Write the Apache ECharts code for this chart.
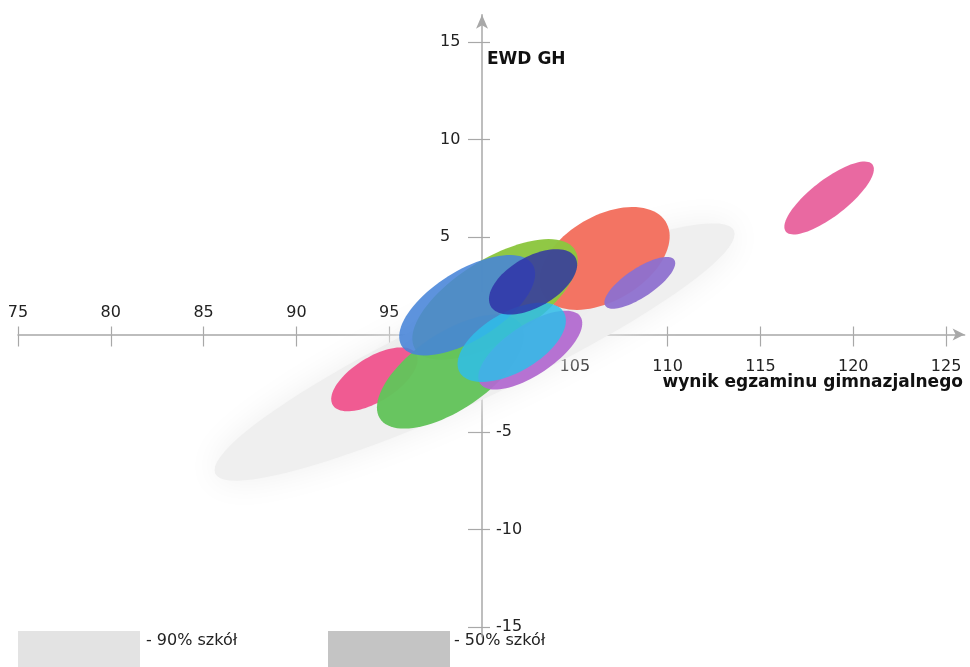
<!DOCTYPE html>
<html>
<head>
<meta charset="utf-8">
<script src="https://cdn.jsdelivr.net/npm/echarts@6/dist/echarts.min.js"></script>
<style>html,body{margin:0;padding:0;background:#fff}#c{width:970px;height:667px}</style>
</head>
<body>
<div id="c"></div>
<script>
// ---- data ----
const ellipseNames = ['90% szkół', '50% szkół', 'A', 'B', 'C', 'D', 'E', 'F', 'G', 'H', 'I', 'J'];
const centerX   = [99.6, 100.4, 106.6, 108.5, 94.2, 100.7, 98.3, 102.6, 99.2, 101.6, 102.75, 118.7];
const centerY   = [-0.9,  0.6,   3.9,   2.65, -2.3,  1.8,  -1.9, -0.8,  1.5, -0.4,   2.7,   7.0];
const semiMajor = [15.3,  6.8,   3.8,   2.2,  2.6,   5.0,   4.5,  3.2,  4.1,  3.2,   2.6,   2.9];
const semiMinor = [2.4,   1.6,   2.2,   0.75, 1.15,  2.1,   2.0,  1.3,  1.8,  1.55,  1.3,   0.95];
const angleDeg  = [24,    28,    28,    32,   30,    30,    32,   32,   30,   28,    28,    36];
const colors    = ['#efefef', '#e6e6e6', '#f36f5e', '#8d70cf', '#f0568e', '#8cc63f', '#63c35b', '#b26ad0', '#4784d8', '#2fbde9', '#2e2fa6', '#e8649e'];
const opacities = [1, 1, 0.97, 0.95, 0.97, 0.97, 0.97, 0.95, 0.88, 0.85, 0.82, 0.97];
const blurs     = [34, 20, 0, 0, 0, 0, 0, 0, 0, 0, 0, 0];

const xTicks = [75, 80, 85, 90, 95, 105, 110, 115, 120, 125];
const xLabelsAbove = [75, 80, 85, 90, 95];
const xLabelsBelow = [105, 110, 115, 120, 125];
const yTicks = [15, 10, 5, -5, -10, -15];
const yLabelsLeft = [15, 10, 5];
const yLabelsRight = [-5, -10, -15];

const xAxisTitle = 'wynik egzaminu gimnazjalnego';
const yAxisTitle = 'EWD GH';
const legendLabels = ['- 90% szkół', '- 50% szkół'];
const legendColors = ['#e3e3e3', '#c4c4c4'];

// ---- layout ----
const W = 970, H = 667;
const G = { left: 18, right: 5.4, top: 14.7, bottom: 30.25 };
const X_MIN = 75, X_MAX = 126, Y_MIN = -15.5, Y_MAX = 16.4;
const X_CROSS = 100, Y_CROSS = 0;
const gw = W - G.left - G.right, gh = H - G.top - G.bottom;
const crossPx = G.left + (X_CROSS - X_MIN) / (X_MAX - X_MIN) * gw;
const crossPy = G.top + (Y_MAX - Y_CROSS) / (Y_MAX - Y_MIN) * gh;

const data = centerX.map((cx, i) => [cx, centerY[i], semiMajor[i], semiMinor[i], angleDeg[i], i]);

function renderEllipse(params, api) {
  const cx = api.value(0), cy = api.value(1), a = api.value(2), b = api.value(3);
  const ang = api.value(4) * Math.PI / 180;
  const idx = api.value(5);
  const pts = [];
  const N = 90;
  for (let k = 0; k < N; k++) {
    const t = k / N * 2 * Math.PI;
    const dx = a * Math.cos(t), dy = b * Math.sin(t);
    pts.push(api.coord([cx + dx * Math.cos(ang) - dy * Math.sin(ang), cy + dx * Math.sin(ang) + dy * Math.cos(ang)]));
  }
  return {
    type: 'polygon',
    shape: { points: pts },
    style: {
      fill: colors[idx],
      opacity: opacities[idx],
      shadowBlur: blurs[idx],
      shadowColor: blurs[idx] ? colors[idx] : 'transparent'
    }
  };
}

const font = 'DejaVu Sans';
const axisColor = '#a8a8a8';
const labelStyle = { color: '#222', fontFamily: font, fontSize: 16 };
const hiddenLine = { show: false, onZero: false };

const chart = echarts.init(document.getElementById('c'), null, { renderer: 'canvas' });
chart.setOption({
  backgroundColor: '#fff',
  animation: false,
  grid: { left: G.left, right: G.right, top: G.top, bottom: G.bottom, containLabel: false, outerBoundsMode: 'none' },
  xAxis: [
    {
      type: 'value', min: X_MIN, max: X_MAX, position: 'bottom', offset: -(G.top + gh - crossPy),
      splitLine: { show: false },
      axisLine: { show: true, onZero: false, symbol: ['none', 'arrow'], symbolSize: [9, 12], lineStyle: { color: axisColor, width: 1.5 } },
      axisTick: { show: true, customValues: xTicks, length: 12, lineStyle: { color: axisColor, width: 1.2 } },
      axisLabel: { show: true, customValues: xLabelsBelow, margin: 24, ...labelStyle }
    },
    {
      type: 'value', min: X_MIN, max: X_MAX, position: 'top', offset: -(crossPy - G.top),
      splitLine: { show: false },
      axisLine: hiddenLine,
      axisTick: { show: true, customValues: xTicks, length: 8, lineStyle: { color: axisColor, width: 1.2 } },
      axisLabel: { show: true, customValues: xLabelsAbove, margin: 14, ...labelStyle }
    }
  ],
  yAxis: [
    {
      type: 'value', min: Y_MIN, max: Y_MAX, position: 'left', offset: -(crossPx - G.left),
      splitLine: { show: false },
      axisLine: { show: true, onZero: false, symbol: ['none', 'arrow'], symbolSize: [9, 14], lineStyle: { color: axisColor, width: 1.5 } },
      axisTick: { show: true, customValues: yTicks, length: 14, lineStyle: { color: axisColor, width: 1.2 } },
      axisLabel: { show: true, customValues: yLabelsLeft, margin: 42, align: 'left', ...labelStyle }
    },
    {
      type: 'value', min: Y_MIN, max: Y_MAX, position: 'right', offset: -(G.left + gw - crossPx),
      splitLine: { show: false },
      axisLine: hiddenLine,
      axisTick: { show: true, customValues: yTicks, length: 8, lineStyle: { color: axisColor, width: 1.2 } },
      axisLabel: { show: true, customValues: yLabelsRight, margin: 14, ...labelStyle }
    }
  ],
  series: [{
    type: 'custom',
    name: 'ellipses',
    xAxisIndex: 0, yAxisIndex: 0,
    clip: false,
    renderItem: renderEllipse,
    encode: { x: 0, y: 1 },
    data: data,
    z: 1
  }],
  graphic: [
    { type: 'text', left: 487, top: 51, z: 10, style: { text: yAxisTitle, fill: '#111', font: 'bold 17px "DejaVu Sans"' } },
    { type: 'text', right: 7, top: 374, z: 10, style: { text: xAxisTitle, fill: '#111', font: 'bold 17px "DejaVu Sans"' } },
    { type: 'rect', left: 18, top: 631, shape: { width: 122, height: 36 }, style: { fill: legendColors[0] } },
    { type: 'text', left: 146, top: 633, style: { text: legendLabels[0], fill: '#222', font: '16px "DejaVu Sans"' } },
    { type: 'rect', left: 328, top: 631, shape: { width: 122, height: 36 }, style: { fill: legendColors[1] } },
    { type: 'text', left: 454, top: 633, style: { text: legendLabels[1], fill: '#222', font: '16px "DejaVu Sans"' } }
  ]
});
</script>
</body>
</html>
